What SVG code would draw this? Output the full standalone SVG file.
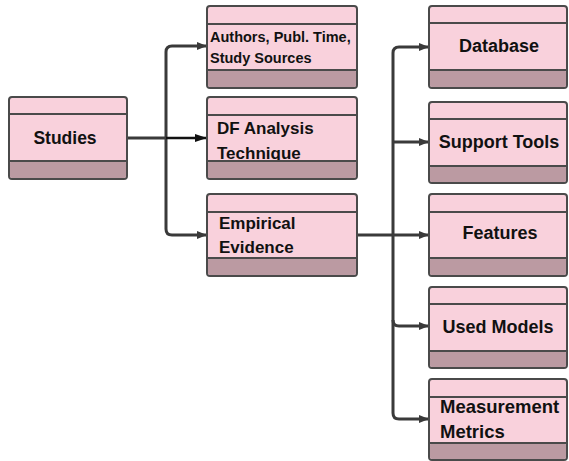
<svg xmlns="http://www.w3.org/2000/svg" width="569" height="461" viewBox="0 0 569 461">
  <defs>
    <marker id="arrow" markerWidth="10" markerHeight="8" refX="9" refY="4" orient="auto" markerUnits="userSpaceOnUse">
      <path d="M0,0 L10,4 L0,8 Z" fill="#3a3a3a"/>
    </marker>
    <marker id="arrowDark" markerWidth="12" markerHeight="8" refX="11" refY="4" orient="auto" markerUnits="userSpaceOnUse">
      <path d="M0,0 L12,4 L0,8 Z" fill="#111"/>
    </marker>
  </defs>
  <style>
    .box { fill: #f9d1dc; stroke: #4a4a4a; stroke-width: 2; }
    .band { fill: #bb9aa2; }
    .sep { stroke: #4a4a4a; stroke-width: 2; }
    .lbl { font-family: "Liberation Sans", Arial, sans-serif; font-weight: bold; fill: #111; }
    .conn { fill: none; stroke: #3a3a3a; stroke-width: 3; }
  </style>
  <rect width="569" height="461" fill="#ffffff"/>

  <g id="connectors">
    <!-- Studies to second column -->
    <path class="conn" d="M127,138 H166"/>
    <path class="conn" d="M166,138 V52 Q166,46 172,46 H206" marker-end="url(#arrow)"/>
    <path class="conn" d="M166,138 V229 Q166,235 172,235 H206" marker-end="url(#arrow)"/>
    <path d="M166,138 H206" fill="none" stroke="#111" stroke-width="2.5" marker-end="url(#arrowDark)"/>
    <!-- Empirical Evidence to third column -->
    <path class="conn" d="M357,235 H393"/>
    <path class="conn" d="M393,235 V53 Q393,47 399,47 H428" marker-end="url(#arrow)"/>
    <path class="conn" d="M393,142 H428" marker-end="url(#arrow)"/>
    <path class="conn" d="M393,235 H428" marker-end="url(#arrow)"/>
    <path class="conn" d="M393,235 V320 Q393,326 399,326 H428" marker-end="url(#arrow)"/>
    <path class="conn" d="M393,320 V413 Q393,419 399,419 H428" marker-end="url(#arrow)"/>
  </g>

  <g id="studies">
    <rect class="box" x="9" y="97" width="118" height="82" rx="3"/>
    <rect class="band" x="10" y="161" width="116" height="17" rx="2"/>
    <line class="sep" x1="9" y1="114" x2="127" y2="114"/>
    <line class="sep" x1="9" y1="161" x2="127" y2="161"/>
    <text class="lbl" x="65" y="144" font-size="17.5" text-anchor="middle">Studies</text>
  </g>

  <g id="authors">
    <rect class="box" x="207" y="6" width="150" height="82" rx="3"/>
    <rect class="band" x="208" y="70" width="148" height="17" rx="2"/>
    <line class="sep" x1="207" y1="24" x2="357" y2="24"/>
    <line class="sep" x1="207" y1="70" x2="357" y2="70"/>
    <text class="lbl" x="210" y="42" font-size="14.5">Authors, Publ. Time,</text>
    <text class="lbl" x="210" y="63" font-size="14.5">Study Sources</text>
  </g>

  <g id="df-analysis">
    <rect class="box" x="207" y="97" width="150" height="82" rx="3"/>
    <rect class="band" x="208" y="161" width="148" height="17" rx="2"/>
    <line class="sep" x1="207" y1="115" x2="357" y2="115"/>
    <text class="lbl" x="217" y="134" font-size="17">DF Analysis</text>
    <text class="lbl" x="217" y="159" font-size="17">Technique</text>
    <line class="sep" x1="207" y1="161" x2="357" y2="161"/>
  </g>

  <g id="empirical">
    <rect class="box" x="207" y="194" width="150" height="82" rx="3"/>
    <rect class="band" x="208" y="258" width="148" height="17" rx="2"/>
    <line class="sep" x1="207" y1="212" x2="357" y2="212"/>
    <line class="sep" x1="207" y1="258" x2="357" y2="258"/>
    <text class="lbl" x="219" y="229" font-size="17">Empirical</text>
    <text class="lbl" x="219" y="253" font-size="17">Evidence</text>
  </g>

  <g id="database">
    <rect class="box" x="429" y="6" width="138" height="82" rx="3"/>
    <rect class="band" x="430" y="70" width="136" height="17" rx="2"/>
    <line class="sep" x1="429" y1="23" x2="567" y2="23"/>
    <line class="sep" x1="429" y1="70" x2="567" y2="70"/>
    <text class="lbl" x="499" y="52" font-size="18" text-anchor="middle">Database</text>
  </g>

  <g id="support-tools">
    <rect class="box" x="429" y="102" width="138" height="81" rx="3"/>
    <rect class="band" x="430" y="166" width="136" height="16" rx="2"/>
    <line class="sep" x1="429" y1="119" x2="567" y2="119"/>
    <line class="sep" x1="429" y1="166" x2="567" y2="166"/>
    <text class="lbl" x="499" y="148" font-size="18" text-anchor="middle">Support Tools</text>
  </g>

  <g id="features">
    <rect class="box" x="429" y="194" width="138" height="82" rx="3"/>
    <rect class="band" x="430" y="258" width="136" height="17" rx="2"/>
    <line class="sep" x1="429" y1="212" x2="567" y2="212"/>
    <line class="sep" x1="429" y1="258" x2="567" y2="258"/>
    <text class="lbl" x="500" y="239" font-size="18" text-anchor="middle">Features</text>
  </g>

  <g id="used-models">
    <rect class="box" x="429" y="287" width="138" height="81" rx="3"/>
    <rect class="band" x="430" y="351" width="136" height="16" rx="2"/>
    <line class="sep" x1="429" y1="304" x2="567" y2="304"/>
    <line class="sep" x1="429" y1="351" x2="567" y2="351"/>
    <text class="lbl" x="498" y="333" font-size="18" text-anchor="middle">Used Models</text>
  </g>

  <g id="measurement">
    <rect class="box" x="429" y="379" width="138" height="81" rx="3"/>
    <rect class="band" x="430" y="443" width="136" height="16" rx="2"/>
    <line class="sep" x1="429" y1="397" x2="567" y2="397"/>
    <line class="sep" x1="429" y1="443" x2="567" y2="443"/>
    <text class="lbl" x="440" y="413" font-size="18.5">Measurement</text>
    <text class="lbl" x="440" y="438" font-size="18.5">Metrics</text>
  </g>
</svg>
